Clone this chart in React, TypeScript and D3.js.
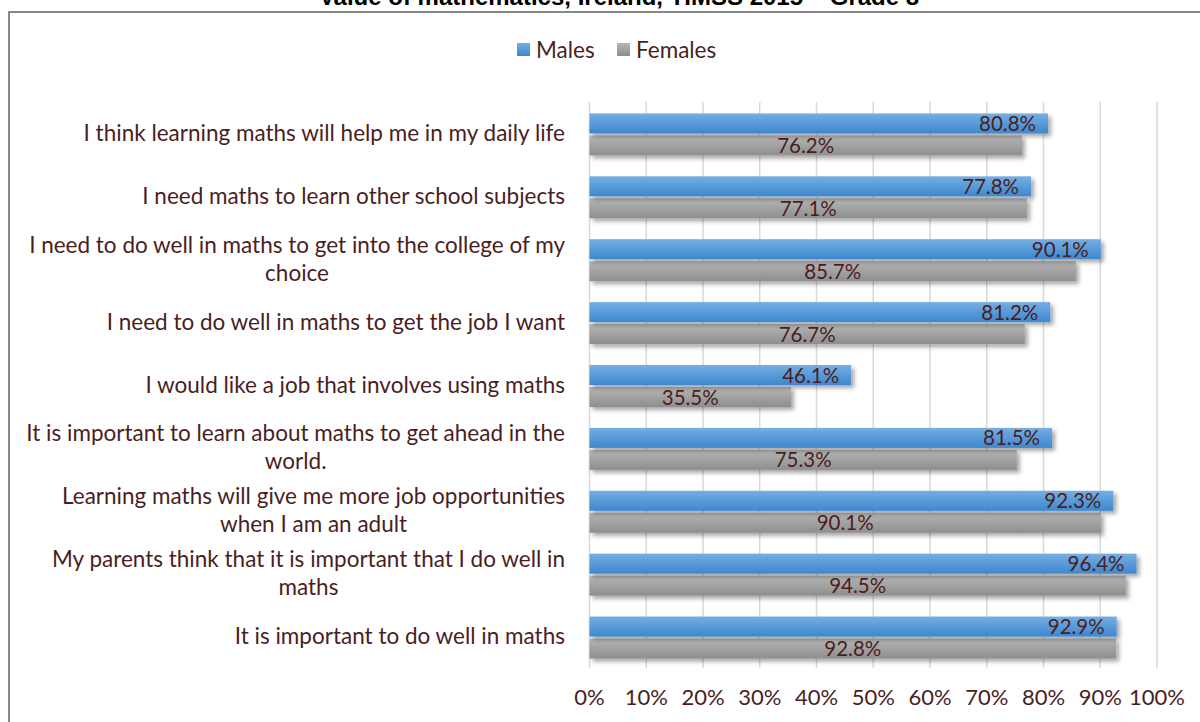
import React, { useEffect, useRef } from "react";
import * as d3 from "d3";

const title = "Value of mathematics, Ireland, TIMSS 2015 – Grade 8";
const categories = [
  "I think learning maths will help me in my daily life",
  "I need maths to learn other school subjects",
  "I need to do well in maths to get into the college of my\nchoice",
  "I need to do well in maths to get the job I want",
  "I would like a job that involves using maths",
  "It is important to learn about maths to get ahead in the\nworld.",
  "Learning maths will give me more job opportunities\nwhen I am an adult",
  "My parents think that it is important that I do well in\nmaths",
  "It is important to do well in maths",
];
const males = [80.8, 77.8, 90.1, 81.2, 46.1, 81.5, 92.3, 96.4, 92.9];
const females = [76.2, 77.1, 85.7, 76.7, 35.5, 75.3, 90.1, 94.5, 92.8];
const seriesNames = ["Males", "Females"];
const ticks = [0, 10, 20, 30, 40, 50, 60, 70, 80, 90, 100];

const FONT = "Lato, 'Open Sans', sans-serif";
const TXT = "#4a1e1e";

export default function App() {
  const ref = useRef<SVGSVGElement>(null);

  useEffect(() => {
    const svg = d3.select(ref.current);
    svg.selectAll("*").remove();

    const defs = svg.append("defs");
    const gb = defs.append("linearGradient").attr("id", "gBlue").attr("x1", 0).attr("y1", 0).attr("x2", 0).attr("y2", 1);
    gb.append("stop").attr("offset", "0%").attr("stop-color", "#75aee3");
    gb.append("stop").attr("offset", "100%").attr("stop-color", "#3d87cf");
    const gg = defs.append("linearGradient").attr("id", "gGray").attr("x1", 0).attr("y1", 0).attr("x2", 0).attr("y2", 1);
    gg.append("stop").attr("offset", "0%").attr("stop-color", "#b6b6b6");
    gg.append("stop").attr("offset", "100%").attr("stop-color", "#8e8e8e");
    const f = defs.append("filter").attr("id", "shadow").attr("x", "-5%").attr("y", "-30%").attr("width", "115%").attr("height", "190%");
    f.append("feDropShadow").attr("dx", 3).attr("dy", 3).attr("stdDeviation", 2).attr("flood-color", "#000").attr("flood-opacity", 0.35);

    // border
    svg.append("rect").attr("x", 9).attr("y", 12).attr("width", 1300).attr("height", 800)
      .attr("fill", "#fff").attr("stroke", "#878787").attr("stroke-width", 2);

    // title (cut off at the top edge, as in the reference)
    svg.append("text").attr("x", 619).attr("y", 5).attr("text-anchor", "middle")
      .attr("font-family", "'Liberation Sans', Lato, sans-serif").attr("font-weight", "bold").attr("font-size", 24)
      .attr("fill", "#000").text(title);

    const x = d3.scaleLinear().domain([0, 100]).range([589.5, 1157]);
    const y = d3.scaleBand<number>().domain(d3.range(categories.length)).range([102, 668]);

    // gridlines
    svg.append("g").selectAll("line").data(ticks).join("line")
      .attr("x1", d => x(d)).attr("x2", d => x(d)).attr("y1", 102).attr("y2", 668)
      .attr("stroke", "#d9d9d9").attr("stroke-width", 1.5);

    // tick labels
    svg.append("g").selectAll("text").data(ticks).join("text")
      .attr("x", d => x(d)).attr("y", 705).attr("text-anchor", "middle")
      .attr("font-family", FONT).attr("font-size", 22).attr("fill", TXT)
      .text(d => `${d}%`);

    // category labels
    const cg = svg.append("g");
    categories.forEach((c, i) => {
      const lines = c.split("\n");
      const cy = y(i)! + y.bandwidth() / 2;
      const t = cg.append("text").attr("font-family", FONT).attr("font-size", 22.5).attr("fill", TXT).attr("text-anchor", "middle");
      const spans = lines.map((ln, k) =>
        t.append("tspan").attr("y", cy + (k - (lines.length - 1) / 2) * 28 + 7.5).text(ln)
      );
      const widths = spans.map(s => (s.node() as SVGTSpanElement).getComputedTextLength());
      const maxW = Math.max(...widths);
      spans.forEach(s => s.attr("x", 565 - maxW / 2));
    });

    const bh = 20;
    const bars = svg.append("g");
    bars.selectAll("rect.f").data(females).join("rect").attr("class", "f")
      .attr("x", x(0)).attr("y", (d, i) => y(i)! + y.bandwidth() / 2 + 2)
      .attr("width", d => x(d) - x(0)).attr("height", bh)
      .attr("fill", "url(#gGray)").attr("filter", "url(#shadow)");
    bars.selectAll("rect.m").data(males).join("rect").attr("class", "m")
      .attr("x", x(0)).attr("y", (d, i) => y(i)! + y.bandwidth() / 2 - bh)
      .attr("width", d => x(d) - x(0)).attr("height", bh)
      .attr("fill", "url(#gBlue)").attr("filter", "url(#shadow)");

    // value labels
    svg.append("g").selectAll("text").data(males).join("text")
      .attr("x", d => x(d) - 12).attr("y", (d, i) => y(i)! + y.bandwidth() / 2 - 2.5)
      .attr("text-anchor", "end").attr("font-family", FONT).attr("font-size", 20.5).attr("fill", TXT)
      .text(d => `${d.toFixed(1)}%`);
    svg.append("g").selectAll("text").data(females).join("text")
      .attr("x", d => (x(0) + x(d)) / 2).attr("y", (d, i) => y(i)! + y.bandwidth() / 2 + 19.5)
      .attr("text-anchor", "middle").attr("font-family", FONT).attr("font-size", 20.5).attr("fill", TXT)
      .text(d => `${d.toFixed(1)}%`);

    // legend
    const lg = svg.append("g");
    const lx = [517, 617];
    const fills = ["url(#gBlue)", "url(#gGray)"];
    seriesNames.forEach((n, i) => {
      lg.append("rect").attr("x", lx[i]).attr("y", 43).attr("width", 13).attr("height", 13).attr("fill", fills[i]);
      lg.append("text").attr("x", lx[i] + 19).attr("y", 58).attr("font-family", FONT).attr("font-size", 22.5).attr("fill", TXT).text(n);
    });
  }, []);

  return (
    <svg ref={ref} width={1200} height={722} style={{ position: "absolute", left: 0, top: 0, background: "#fff" }} />
  );
}
